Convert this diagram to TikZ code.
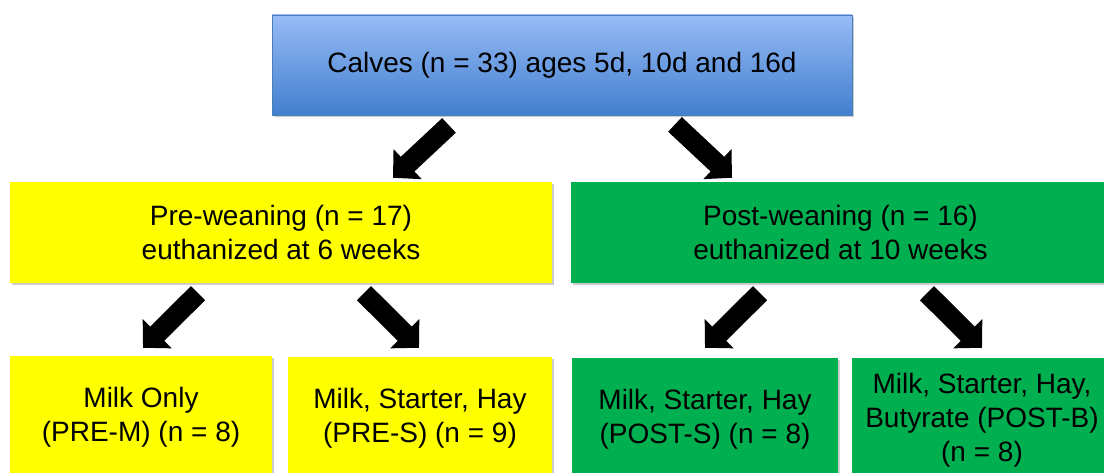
\documentclass[tikz,border=0pt]{standalone}
\usepackage{fontspec}
\setmainfont{Liberation Sans}
\usetikzlibrary{arrows.meta,calc,shadows}

\definecolor{calvesblueA}{RGB}{151,187,246}
\definecolor{calvesblueB}{RGB}{66,127,206}
\definecolor{calvesedge}{RGB}{74,126,187}
\definecolor{preyellow}{RGB}{255,255,0}
\definecolor{postgreen}{RGB}{0,176,80}

\tikzset{
  groupbox/.style={align=center, inner sep=0pt, font=\fontsize{28}{34}\selectfont,
    drop shadow={shadow xshift=1.5pt, shadow yshift=-2pt, fill=black, opacity=0.2}},
  calvesbox/.style={groupbox, draw=calvesedge, line width=0.8pt,
    top color=calvesblueA, bottom color=calvesblueB},
  prebox/.style={groupbox, fill=preyellow},
  postbox/.style={groupbox, fill=postgreen},
  blockarrow/.style={line width=20pt, -{Triangle[width=40pt,length=20pt]}},
}

\begin{document}
\begin{tikzpicture}[x=1pt, y=1pt]
    \useasboundingbox (0,0) rectangle (1104,472);
    \clip (0,0) rectangle (1104,472);

    % all calves
    \node[calvesbox, minimum width=580pt, minimum height=100pt] (calves) at (562,407)
        {Calves (n = 33) ages 5d, 10d and 16d};

    % weaning groups
    \node[prebox, minimum width=542pt, minimum height=101pt] (pre) at (281,239.5)
        {Pre-weaning (n = 17)\\euthanized at 6 weeks};
    \node[postbox, minimum width=539pt, minimum height=101pt] (post) at (840.5,239.5)
        {Post-weaning (n = 16)\\euthanized at 10 weeks};

    % diets
    \node[prebox, minimum width=262pt, minimum height=122pt] (preM) at (141,55)
        {Milk Only\\(PRE-M) (n = 8)};
    \node[prebox, minimum width=264pt, minimum height=122pt] (preS) at (420,54)
        {Milk, Starter, Hay\\(PRE-S) (n = 9)};
    \node[postbox, minimum width=266pt, minimum height=122pt] (postS) at (705,53)
        {Milk, Starter, Hay\\(POST-S) (n = 8)};
    \node[postbox, minimum width=260pt, minimum height=124pt] (postB) at (982,52)
        {Milk, Starter, Hay,\\Butyrate (POST-B)\\(n = 8)};

    \draw[blockarrow] ($(calves.south)+(-113,-10)$) -- ($(pre.north)+(112,4)$);
    \draw[blockarrow] ($(calves.south)+(113,-9)$) -- ($(post.north)+(-108.5,4)$);

    \draw[blockarrow] ($(pre.south)+(-83,-10)$) -- ($(preM.north)+(2,8)$);
    \draw[blockarrow] ($(pre.south)+(83,-10)$) -- ($(preS.north)+(-1,9)$);
    \draw[blockarrow] ($(post.south)+(-80.5,-10)$) -- ($(postS.north)+(0,10)$);
    \draw[blockarrow] ($(post.south)+(86.5,-10)$) -- ($(postB.north)+(0,10)$);
\end{tikzpicture}
\end{document}
